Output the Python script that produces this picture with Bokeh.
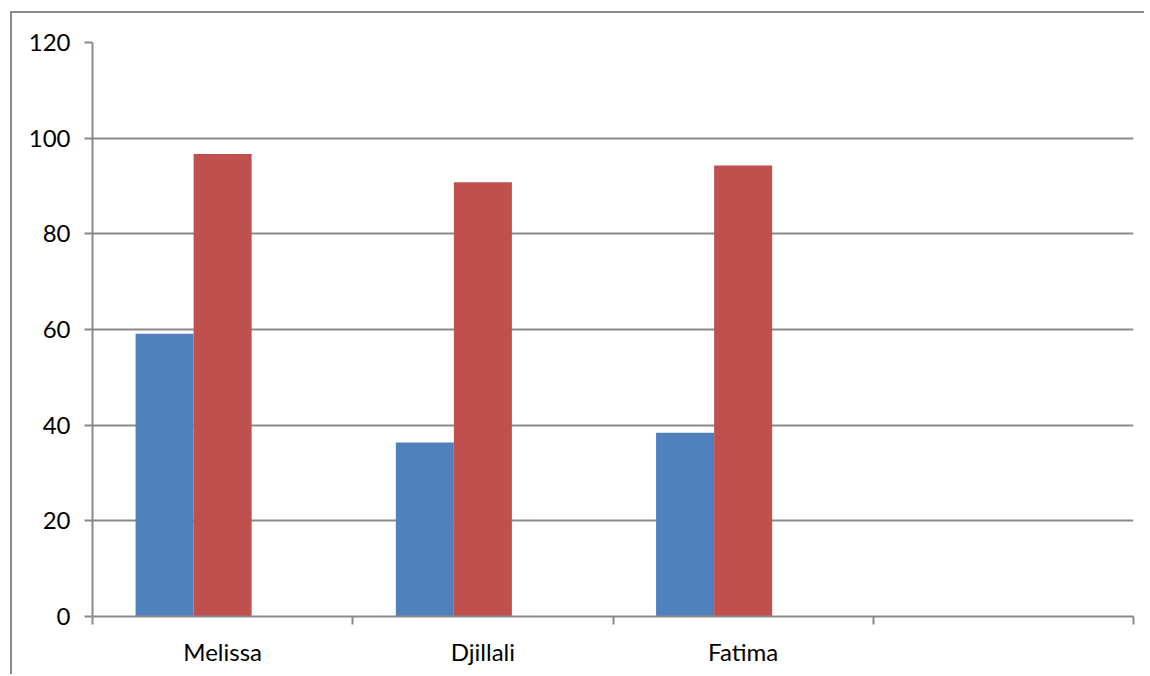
from bokeh.plotting import figure
from bokeh.models import ColumnDataSource, Range1d, FixedTicker
from bokeh.embed import file_html
from bokeh.resources import INLINE

# ---- data ----
categories = ["Melissa", "Djillali", "Fatima", ""]
series_blue = [59.1, 36.4, 38.4]
series_red = [96.7, 90.8, 94.3]
y_ticks = [0, 20, 40, 60, 80, 100, 120]

BLUE = "#4F81BD"
RED = "#C0504D"
GREY = "#8A8A8A"
FONT = "Lato"

bar_w = 0.223
centers = [i + 0.5 for i in range(len(series_blue))]
src = ColumnDataSource(dict(
    xb=[c - bar_w for c in centers],
    xr=[c for c in centers],
    blue=series_blue,
    red=series_red,
))

p = figure(width=1134, height=663, output_backend="svg", toolbar_location=None,
           x_range=Range1d(0, len(categories)), y_range=Range1d(0, 120),
           min_border_left=80, min_border_right=13, min_border_top=29, min_border_bottom=60)
p.outline_line_color = None
p.background_fill_color = "white"
p.border_fill_color = "white"
p.styles = {"margin-left": "10px", "margin-top": "11px",
            "border-left": "2px solid #8A8A8A", "border-top": "2px solid #8A8A8A",
            "overflow": "hidden"}

p.vbar(x="xb", top="blue", bottom=0, width=bar_w, source=src, fill_color=BLUE, line_color=None)
p.vbar(x="xr", top="red", bottom=0, width=bar_w, source=src, fill_color=RED, line_color=None)

# y axis
p.yaxis.ticker = FixedTicker(ticks=y_ticks)
p.yaxis.axis_line_color = GREY
p.yaxis.axis_line_width = 2
p.yaxis.major_tick_line_color = GREY
p.yaxis.major_tick_line_width = 2
p.yaxis.major_tick_out = 8
p.yaxis.major_tick_in = 0
p.yaxis.minor_tick_line_color = None
p.yaxis.major_label_text_font = FONT
p.yaxis.major_label_text_font_size = "24px"
p.yaxis.major_label_text_color = "black"
p.yaxis.major_label_standoff = 14

# x axis
label_pos = [i + 0.5 for i in range(len(categories))]
p.xaxis.ticker = FixedTicker(ticks=label_pos, minor_ticks=list(range(len(categories) + 1)))
p.xaxis.major_label_overrides = {lp: c for lp, c in zip(label_pos, categories)}
p.xaxis.axis_line_color = GREY
p.xaxis.axis_line_width = 2
p.xaxis.major_tick_line_color = None
p.xaxis.major_tick_out = 0
p.xaxis.major_tick_in = 0
p.xaxis.minor_tick_line_color = GREY
p.xaxis.minor_tick_line_width = 2
p.xaxis.minor_tick_out = 8
p.xaxis.minor_tick_in = 0
p.xaxis.major_label_text_font = FONT
p.xaxis.major_label_text_font_size = "24px"
p.xaxis.major_label_text_color = "black"
p.xaxis.major_label_standoff = 12

p.xgrid.grid_line_color = None
p.ygrid.ticker = FixedTicker(ticks=y_ticks)
p.ygrid.grid_line_color = GREY
p.ygrid.grid_line_width = 2

open("out.html", "w").write(file_html(p, INLINE))
